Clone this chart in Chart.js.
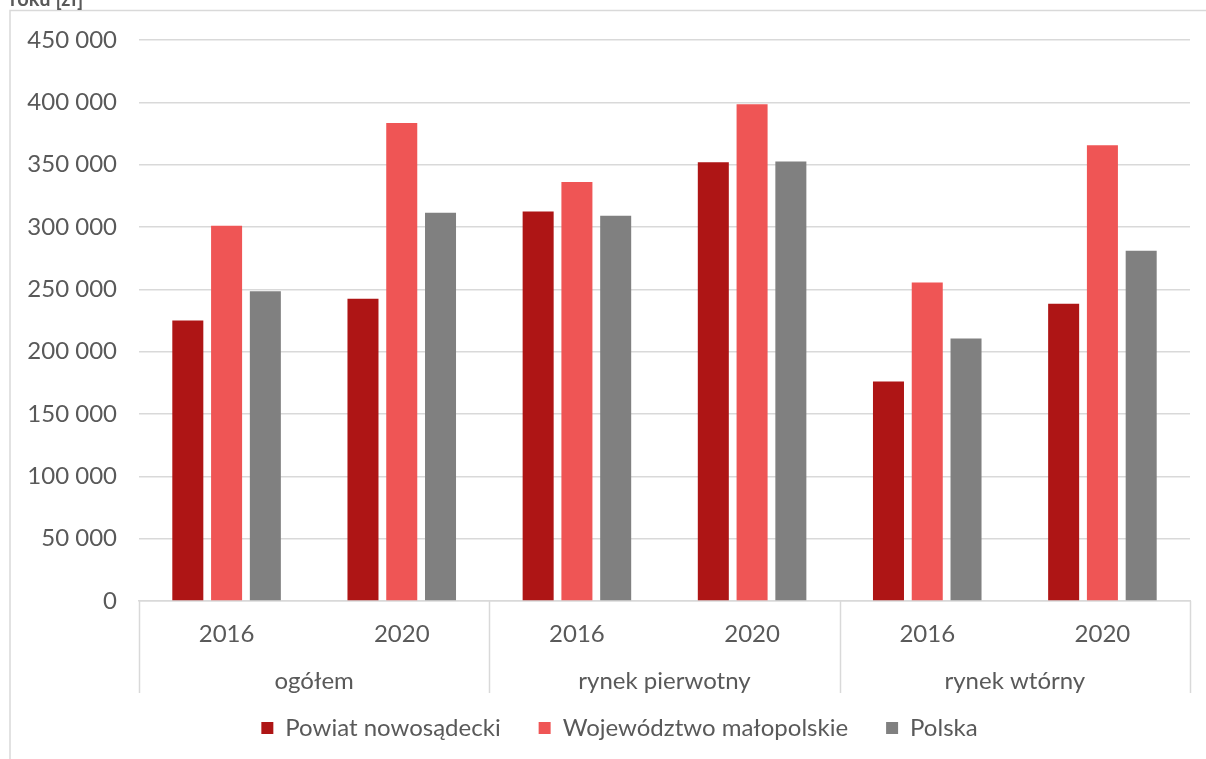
<!DOCTYPE html>
<html>
<head>
<meta charset="utf-8">
<script src="https://cdn.jsdelivr.net/npm/chart.js@4.4.1/dist/chart.umd.min.js"></script>
<style>
  body { margin: 0; background: #fff; }
  #wrap { width: 1206px; height: 759px; }
</style>
</head>
<body>
<div id="wrap"><canvas id="chart" width="1206" height="759"></canvas></div>
<script>
// data
const groups = ['ogółem', 'rynek pierwotny', 'rynek wtórny'];
const years = ['2016', '2020'];
const powiat = [225000, 242500, 312500, 352000, 176000, 238500];
const wojewodztwo = [301000, 383500, 336000, 398500, 255500, 365500];
const polska = [248500, 311500, 309000, 352500, 210500, 281000];
const yTicks = [0, 50000, 100000, 150000, 200000, 250000, 300000, 350000, 400000, 450000];

const labels = [];
groups.forEach(g => years.forEach(y => labels.push(y)));

const gridColor = '#d9d9d9';
const textColor = '#595959';
const fontFamily = 'Lato, "Open Sans", sans-serif';

function fmt(v) {
    return String(v).replace(/\B(?=(\d{3})+(?!\d))/g, ' ');
}

// outer frame, cut title, group separators and group labels
const groupAxis = {
    id: 'groupAxis',
    afterLayout(chart) {
        // Excel centres the legend a bit right of the canvas centre
        chart.legend.left += 33;
    },
    beforeDraw(chart) {
        const ctx = chart.ctx;
        ctx.save();
        ctx.strokeStyle = gridColor;
        ctx.lineWidth = 1.5;
        ctx.beginPath();
        ctx.moveTo(10, 759);
        ctx.lineTo(10, 10.5);
        ctx.lineTo(1206, 10.5);
        ctx.stroke();
        ctx.fillStyle = textColor;
        ctx.font = 'bold 20px ' + fontFamily;
        ctx.textAlign = 'left';
        ctx.textBaseline = 'alphabetic';
        ctx.fillText('roku [zł]', 10, 6);
        ctx.restore();
    },
    afterDraw(chart) {
        const ctx = chart.ctx;
        const x = chart.scales.x;
        const area = chart.chartArea;
        const per = years.length;
        const edges = [area.left];
        for (let g = 1; g < groups.length; g++) {
            edges.push((x.getPixelForValue(g * per - 1) + x.getPixelForValue(g * per)) / 2);
        }
        edges.push(area.right);
        ctx.save();
        ctx.strokeStyle = gridColor;
        ctx.lineWidth = 1.5;
        edges.forEach(e => {
            const px = Math.round(e) + 0.5;
            ctx.beginPath();
            ctx.moveTo(px, area.bottom);
            ctx.lineTo(px, area.bottom + 92);
            ctx.stroke();
        });
        ctx.fillStyle = textColor;
        ctx.font = '24px ' + fontFamily;
        ctx.textAlign = 'center';
        ctx.textBaseline = 'middle';
        groups.forEach((g, i) => {
            ctx.fillText(g, (edges[i] + edges[i + 1]) / 2, area.bottom + 80);
        });
        ctx.restore();
    }
};

const ctx = document.getElementById('chart').getContext('2d');

new Chart(ctx, {
    type: 'bar',
    data: {
        labels: labels,
        datasets: [
            { label: 'Powiat nowosądecki', data: powiat, backgroundColor: '#ae1515' },
            { label: 'Województwo małopolskie', data: wojewodztwo, backgroundColor: '#ef5555' },
            { label: 'Polska', data: polska, backgroundColor: '#808080' }
        ]
    },
    options: {
        responsive: false,
        animation: false,
        categoryPercentage: 0.664,
        barPercentage: 0.8,
        layout: {
            padding: { left: 16, right: 16, top: 40, bottom: 9 }
        },
        scales: {
            x: {
                grid: { display: false, drawTicks: false },
                border: { color: gridColor, width: 1.5 },
                ticks: {
                    color: textColor,
                    padding: 19,
                    font: { family: fontFamily, size: 24 }
                },
                afterFit(scale) { scale.height = 77; }
            },
            y: {
                min: 0,
                max: 450000,
                afterBuildTicks(scale) { scale.ticks = yTicks.map(v => ({ value: v })); },
                grid: { color: gridColor, lineWidth: 1.5, drawTicks: false },
                border: { display: false },
                ticks: {
                    color: textColor,
                    padding: 22,
                    font: { family: fontFamily, size: 24 },
                    callback: v => fmt(v)
                },
                afterFit(scale) { scale.width = 123; }
            }
        },
        plugins: {
            legend: {
                position: 'bottom',
                labels: {
                    color: textColor,
                    boxWidth: 12,
                    boxHeight: 12,
                    padding: 38,
                    font: { family: fontFamily, size: 24 }
                }
            },
            tooltip: { enabled: false }
        }
    },
    plugins: [groupAxis]
});
</script>
</body>
</html>
